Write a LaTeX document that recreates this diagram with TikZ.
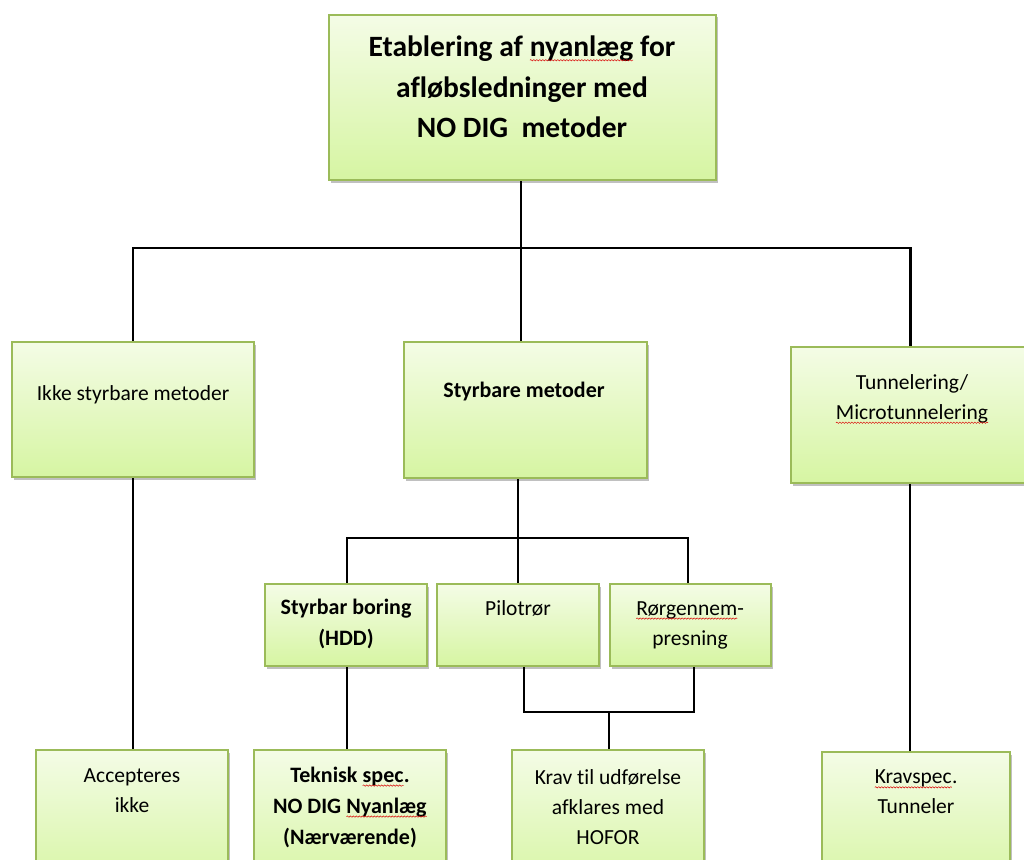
\documentclass[tikz,border=0pt]{standalone}
\usepackage{fontspec}
\setmainfont{Carlito}[Ligatures=NoCommon]
\usetikzlibrary{shadows,decorations.pathmorphing}
\definecolor{bord}{HTML}{9BBB59}
\definecolor{gtop}{HTML}{F4FCE6}
\definecolor{gbot}{HTML}{D6F5A2}
\newcommand{\sqw}[1]{\tikz[baseline=(w.base),x=1pt,y=1pt]{\node[inner sep=0pt,outer sep=0pt](w){#1};\draw[red!85!black,line width=0.5pt,decorate,decoration={snake,amplitude=0.7pt,segment length=3pt}]([yshift=-3.5pt]w.base west)--([yshift=-3.5pt]w.base east);}}
\tikzset{
  box/.style={draw=bord,line width=2.2pt,top color=gtop,bottom color=gbot,
    drop shadow={shadow xshift=2pt,shadow yshift=-2.5pt,opacity=0.35,fill=black!70}},
  txt/.style={align=center,font=\fontsize{21.5}{30}\selectfont,inner sep=0pt},
  btxt/.style={txt,font=\fontsize{22}{31}\selectfont\bfseries},
  conn/.style={line width=2.4pt,black}
}
\begin{document}
\begin{tikzpicture}[x=1pt,y=-1pt]
\clip (0,0) rectangle (1024,859);
\fill[white] (0,0) rectangle (1024,859);
% boxes
\node[box,minimum width=387pt,minimum height=165pt] (top) at (522.5,97.5) {};
\node[box,minimum width=242pt,minimum height=135pt] (ikke) at (133,409.5) {};
\node[box,minimum width=243pt,minimum height=136pt] (styr) at (525.5,410) {};
\node[box,minimum width=239pt,minimum height=136pt] (tunn) at (910.5,415) {};
\node[box,minimum width=162pt,minimum height=82pt] (hdd) at (346,625) {};
\node[box,minimum width=162pt,minimum height=82pt] (pilot) at (518,625) {};
\node[box,minimum width=161pt,minimum height=82pt] (roer) at (690.5,625) {};
\node[box,minimum width=192pt,minimum height=140pt] (acc) at (132,820) {};
\node[box,minimum width=192pt,minimum height=140pt] (tek) at (350,820) {};
\node[box,minimum width=192pt,minimum height=140pt] (krav) at (608,820) {};
\node[box,minimum width=188pt,minimum height=140pt] (ks) at (916,822) {};
% texts
\node[txt,font=\fontsize{29.5}{40.5}\selectfont\bfseries] (ttop) at (522,87) {Etablering af \sqw{nyanlæg} for\\afløbsledninger med\\NO DIG\ \ metoder};
\node[txt] (tikke) at (133,395) {Ikke styrbare metoder};
\node[btxt] (tstyr) at (524,392) {Styrbare metoder};
\node[txt] (ttunn) at (912,399) {Tunnelering/\\\sqw{Microtunnelering}};
\node[btxt] (thdd) at (346,624) {Styrbar boring\\(HDD)};
\node[txt] (tpilot) at (518,608) {Pilotrør};
\node[txt] (troer) at (690,625) {\sqw{Rørgennem}-\\presning};
\node[txt] (tacc) at (132,791) {Accepteres\\ikke};
\node[btxt] (ttek) at (350,807) {Teknisk \sqw{spec}.\\NO DIG \sqw{Nyanlæg}\\(Nærværende)};
\node[txt] (tkrav) at (608,807) {Krav til udførelse\\afklares med\\HOFOR};
\node[txt] (tks) at (916,792) {\sqw{Kravspec}.\\Tunneler};
% connectors
\coordinate (j1) at (521,248);
\coordinate (j2) at (518,538);
\coordinate (j3) at (609,712);
\draw[conn] (top.south -| j1) -- (j1);
\draw[conn] (ikke.north) |- (j1) -| (tunn.north);
\draw[conn] (j1) -- (j1 |- styr.north);
\draw[conn] (j2 |- styr.south) -- (j2) -- (j2 |- pilot.north);
\draw[conn] ([xshift=1pt]hdd.north) |- (j2) -| ([xshift=-2.5pt]roer.north);
\draw[conn] ([xshift=6pt]pilot.south) |- (j3) -| ([xshift=3.5pt]roer.south);
\draw[conn] (j3) -- (j3 |- krav.north);
\draw[conn] ([xshift=1pt]hdd.south) -- ([xshift=1pt]hdd.south |- tek.north);
\draw[conn] (ikke.south) -- (ikke.south |- acc.north);
\draw[conn] (tunn.south -| 910,0) -- (910,0 |- ks.north);
\end{tikzpicture}
\end{document}
